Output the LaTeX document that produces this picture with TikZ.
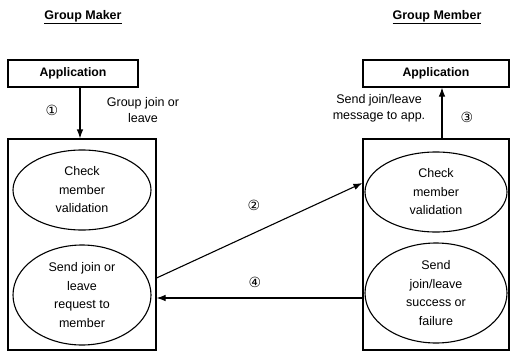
\documentclass[tikz,border=0pt]{standalone}
\usepackage{fontspec}
\setmainfont{Liberation Sans}
\newfontfamily\circfont{DejaVu Sans}
\usetikzlibrary{shapes.geometric,arrows.meta}
\begin{document}
\begin{tikzpicture}[x=1pt,y=-1pt,
  txt/.style={font=\fontsize{12.5}{16.5}\selectfont, align=center, inner sep=0pt},
  ttl/.style={font=\fontsize{12.5}{14}\selectfont\bfseries, inner sep=0pt},
  appbox/.style={draw, line width=1.1pt, inner sep=0pt, font=\fontsize{12.3}{14}\selectfont\bfseries},
  bigbox/.style={draw, line width=1.1pt, inner sep=0pt},
  oval/.style={draw, ellipse, line width=1.1pt, inner sep=0pt, align=center, font=\fontsize{12.5}{18.5}\selectfont},
  num/.style={font=\fontsize{14}{16}\selectfont\circfont, inner sep=0pt},
  arr/.style={line width=1.1pt, -{Latex[length=9pt,width=6.5pt]}}]
\useasboundingbox (0,0) rectangle (511,356);

% titles
\node[ttl] (t1) at (83,17) {\underline{Group Maker}};
\node[ttl] (t2) at (437,17) {\underline{Group Member}};

% application boxes
\node[appbox, minimum width=130pt, minimum height=27pt] (lapp) at (73,73.5) {Application};
\node[appbox, minimum width=146pt, minimum height=27pt] (rapp) at (436,73.5) {Application};

% big boxes
\node[bigbox, minimum width=148pt, minimum height=211pt] (lbig) at (82,244.5) {};
\node[bigbox, minimum width=146pt, minimum height=211pt] (rbig) at (436,244.5) {};

% ellipses
\node[oval, minimum width=138pt, minimum height=80pt] (lchk) at (82,190) {Check\\member\\validation};
\node[oval, minimum width=138pt, minimum height=100pt] (lsend) at (82,295) {Send join or\\leave\\request to\\member};
\node[oval, minimum width=142pt, minimum height=80pt] (rchk) at (436,192) {Check\\member\\validation};
\node[oval, minimum width=142pt, minimum height=100pt] (rsend) at (436,293) {Send\\join/leave\\success or\\failure};

% helper coordinates
\coordinate (lx) at (80,0);
\coordinate (rx) at (442,0);
\coordinate (y2a) at (0,278);
\coordinate (y2b) at (0,183);
\coordinate (y4) at (0,298);

% connectors
\draw[arr] (lapp.south -| lx) -- (lbig.north -| lx);
\draw[arr] (rbig.north -| rx) -- (rapp.south -| rx);
\draw[arr] (lbig.east |- y2a) -- (rbig.west |- y2b);
\draw[arr] (rbig.west |- y4) -- (lbig.east |- y4);

% labels
\node[num] (n1) at (52,110) {①};
\node[txt] (l1) at (143,110) {Group join or\\leave};
\node[num] (n2) at (254,205) {②};
\node[txt] (l3) at (379,108.5) {Send join/leave\\message to app.};
\node[num] (n3) at (467,117) {③};
\node[num] (n4) at (255,282) {④};
\end{tikzpicture}
\end{document}
